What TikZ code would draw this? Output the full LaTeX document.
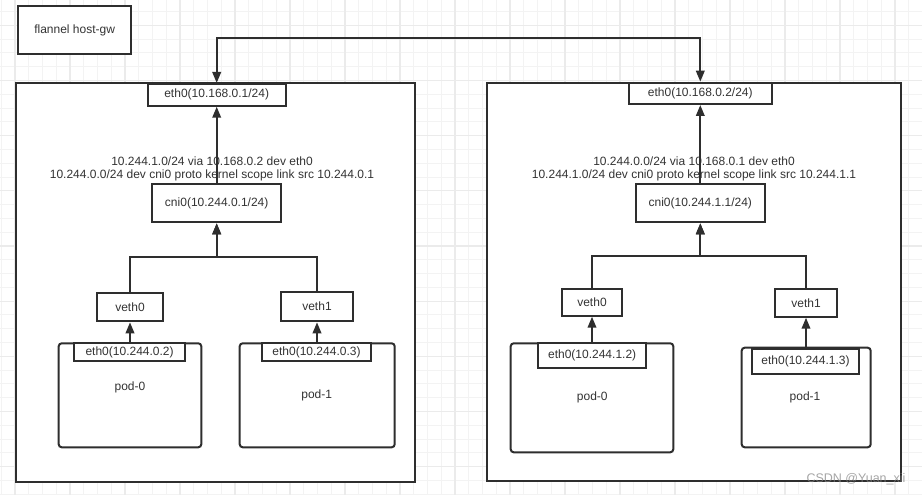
\documentclass[tikz,border=0pt]{standalone}
\usepackage{fontspec}
\setmainfont{Liberation Sans}
\usetikzlibrary{arrows.meta}
\definecolor{ink}{HTML}{2E2E2E}
\definecolor{txt}{HTML}{333333}
\definecolor{gridminor}{HTML}{F3F3F3}
\definecolor{gridmajor}{HTML}{EBEBEB}
\begin{document}
\begin{tikzpicture}[x=1pt,y=-1pt,
  font=\fontsize{12}{13.4}\selectfont,
  every node/.style={text=txt},
  box/.style={draw=ink, line width=2pt, fill=white, rectangle, inner sep=0pt, align=center},
  podbox/.style={box, rounded corners=3pt},
  arr/.style={draw=ink, line width=2pt, -{Triangle[length=11pt,width=8.5pt]}},
  dblarr/.style={draw=ink, line width=2pt, {Triangle[length=11pt,width=8.5pt]}-{Triangle[length=11pt,width=8.5pt]}},
  lbl/.style={inner sep=0pt, align=center}]
\useasboundingbox (0,0) rectangle (922,495);
% background grid
\fill[white] (0,0) rectangle (922,495);
\foreach \i in {-34,...,34} {\draw[gridminor, line width=1pt] ({455+13.75*\i},0) -- ({455+13.75*\i},495);}
\foreach \j in {-1,...,36} {\draw[gridminor, line width=1pt] (0,{11.55+13.79*\j}) -- (922,{11.55+13.79*\j});}
\foreach \i in {-8,...,8} {\draw[gridmajor, line width=1.2pt] ({455+55*\i},0) -- ({455+55*\i},495);}
\foreach \j in {-1,...,8} {\draw[gridmajor, line width=1.2pt] (0,{80.5+55.17*\j}) -- (922,{80.5+55.17*\j});}

% title
\node[box, minimum width=112.7pt, minimum height=48pt] (title) at (74.65,30) {flannel host-gw};

% hosts
\node[box, minimum width=399.3pt, minimum height=399pt] (hostL) at (215.35,282.2) {};
\node[box, minimum width=413.4pt, minimum height=397.7pt] (hostR) at (694,282.15) {};

% left host
\node[box, minimum width=138pt, minimum height=21.7pt] (ethL) at (216.7,94.85) {eth0(10.168.0.1/24)};
\node[box, minimum width=129.4pt, minimum height=38pt] (cniL) at (216.7,203.3) {cni0(10.244.0.1/24)};
\node[lbl] (routeL) at (212,169) {10.244.1.0/24 via 10.168.0.2 dev eth0\\10.244.0.0/24 dev cni0 proto kernel scope link src 10.244.0.1};
\node[box, minimum width=65.4pt, minimum height=28pt] (vethL0) at (130,307.3) {veth0};
\node[box, minimum width=72.6pt, minimum height=29.6pt] (vethL1) at (317,306.5) {veth1};
\node[podbox, minimum width=142.6pt, minimum height=104pt] (podL0) at (130,395.3) {};
\node[podbox, minimum width=155pt, minimum height=104pt] (podL1) at (317.2,395.3) {};
\node[box, minimum width=110.3pt, minimum height=17.7pt] (podeL0) at (129.6,352.15) {eth0(10.244.0.2)};
\node[box, minimum width=109.6pt, minimum height=17.7pt] (podeL1) at (316.5,352.15) {eth0(10.244.0.3)};
\node[lbl] (podtL0) at (130,387.7) {pod-0};
\node[lbl] (podtL1) at (316.7,395) {pod-1};

% right host
\node[box, minimum width=142.4pt, minimum height=21.3pt] (ethR) at (700.3,93.35) {eth0(10.168.0.2/24)};
\node[box, minimum width=129.6pt, minimum height=38pt] (cniR) at (700.3,203.3) {cni0(10.244.1.1/24)};
\node[lbl] (routeR) at (694,169) {10.244.0.0/24 via 10.168.0.1 dev eth0\\10.244.1.0/24 dev cni0 proto kernel scope link src 10.244.1.1};
\node[box, minimum width=60.6pt, minimum height=26.4pt] (vethR0) at (592,302.5) {veth0};
\node[box, minimum width=61.4pt, minimum height=27.4pt] (vethR1) at (806,303) {veth1};
\node[podbox, minimum width=162.6pt, minimum height=109pt] (podR0) at (592,397.8) {};
\node[podbox, minimum width=129pt, minimum height=99.6pt] (podR1) at (806.2,397.5) {};
\node[box, minimum width=107.7pt, minimum height=25pt] (podeR0) at (592.15,355.8) {eth0(10.244.1.2)};
\node[box, minimum width=107.6pt, minimum height=25pt] (podeR1) at (805.5,361.8) {eth0(10.244.1.3)};
\node[lbl] (podtR0) at (592.3,397.7) {pod-0};
\node[lbl] (podtR1) at (805,397.7) {pod-1};

% connectors
\coordinate (top) at (458,37.7);
\draw[dblarr] (ethL.north) |- (top) -| (ethR.north);

\draw[arr] (cniL.north) -- (ethL.south);
\draw[arr] (cniR.north) -- (ethR.south);

\coordinate (jL) at (216.7,256.8);
\coordinate (jR) at (700.3,255.5);
\draw[arr] (vethL0.north) |- (jL) -- (jL |- cniL.south);
\draw[arr] (vethL1.north) |- (jL) -- (jL |- cniL.south);
\draw[arr] (vethR0.north) |- (jR) -- (jR |- cniR.south);
\draw[arr] (vethR1.north) |- (jR) -- (jR |- cniR.south);

\draw[arr] (vethL0.south |- podL0.north) -- (vethL0.south);
\draw[arr] (vethL1.south |- podL1.north) -- (vethL1.south);
\draw[arr] (vethR0.south |- podR0.north) -- (vethR0.south);
\draw[arr] (vethR1.south |- podR1.north) -- (vethR1.south);

% watermark
\node[lbl, text=gray, opacity=0.7, font=\fontsize{12.5}{14}\selectfont] (wm) at (856,479.5) {CSDN @Yuan\_xii};
\end{tikzpicture}
\end{document}
